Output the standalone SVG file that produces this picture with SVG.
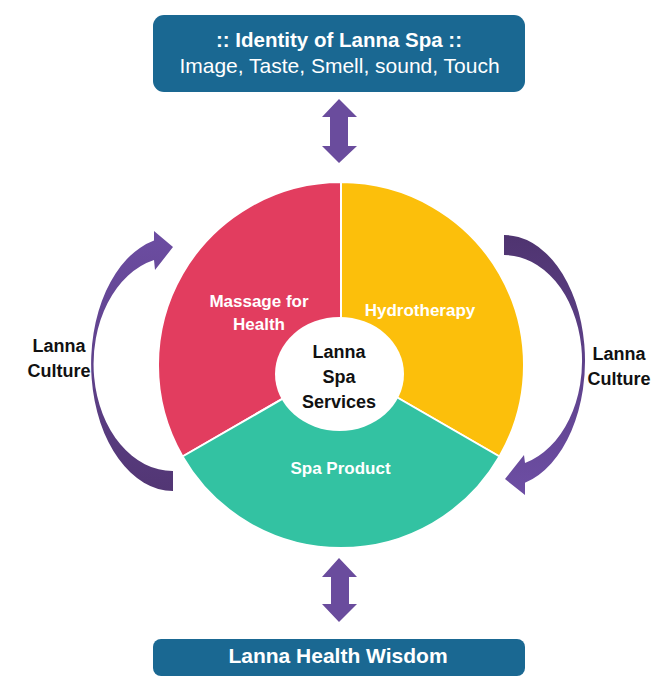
<svg xmlns="http://www.w3.org/2000/svg" width="653" height="677" viewBox="0 0 653 677">
  <style>
    .box { fill: #1A6892; }
    .seg { stroke: #ffffff; stroke-width: 2; stroke-linejoin: round; }
    .lbl { font-family: "Liberation Sans", Arial, sans-serif; font-weight: bold; text-anchor: middle; }
    .white { fill: #ffffff; }
    .dark { fill: #111111; }
    .dbl { fill: #6A4C9D; }
  </style>
  <defs>
    <linearGradient id="gradUp" x1="0" y1="1" x2="0" y2="0">
      <stop offset="0" stop-color="#523674"/>
      <stop offset="1" stop-color="#6C4DA2"/>
    </linearGradient>
    <linearGradient id="gradDown" x1="0" y1="0" x2="0" y2="1">
      <stop offset="0" stop-color="#4F3470"/>
      <stop offset="1" stop-color="#6D4EA4"/>
    </linearGradient>
  </defs>

  <rect width="653" height="677" fill="#ffffff"/>

  <!-- top banner -->
  <g id="identity">
    <rect class="box" x="153" y="15" width="372" height="77" rx="11"/>
    <text class="lbl white" x="339" y="47" font-size="20.5">:: Identity of Lanna Spa ::</text>
    <text class="white" x="339.5" y="73" font-size="21" font-family="Liberation Sans, Arial, sans-serif" text-anchor="middle">Image, Taste, Smell, sound, Touch</text>
  </g>

  <!-- bottom banner -->
  <g id="wisdom">
    <rect class="box" x="153" y="639" width="372" height="37" rx="8"/>
    <text class="lbl white" x="338" y="663" font-size="21">Lanna Health Wisdom</text>
  </g>

  <!-- three service sectors -->
  <g id="massage">
    <path class="seg" fill="#E23D5F" d="M341,365 L341,182 A183,183 0 0 0 182.5,456.5 Z"/>
    <text class="lbl white" x="259" y="307" font-size="17">Massage for</text>
    <text class="lbl white" x="259" y="330" font-size="17">Health</text>
  </g>
  <g id="hydrotherapy">
    <path class="seg" fill="#FCBF0B" d="M341,365 L341,182 A183,183 0 0 1 499.5,456.5 Z"/>
    <text class="lbl white" x="420" y="316" font-size="17">Hydrotherapy</text>
  </g>
  <g id="spa-product">
    <path class="seg" fill="#33C2A2" d="M341,365 L499.5,456.5 A183,183 0 0 1 182.5,456.5 Z"/>
    <text class="lbl white" x="340.5" y="474" font-size="17">Spa Product</text>
  </g>
  <g id="services">
    <ellipse cx="339.5" cy="374" rx="64.5" ry="57" fill="#ffffff"/>
    <text class="lbl dark" x="339" y="358" font-size="18">Lanna</text>
    <text class="lbl dark" x="339" y="383" font-size="18">Spa</text>
    <text class="lbl dark" x="339" y="408" font-size="18">Services</text>
  </g>

  <!-- side labels -->
  <g id="culture-left">
    <text class="lbl dark" x="59" y="352" font-size="18">Lanna</text>
    <text class="lbl dark" x="59" y="377" font-size="18">Culture</text>
  </g>
  <g id="culture-right">
    <text class="lbl dark" x="619" y="360" font-size="18">Lanna</text>
    <text class="lbl dark" x="619" y="385" font-size="18">Culture</text>
  </g>

  <!-- connectors -->
  <g id="connectors">
    <!-- vertical double arrows -->
    <path class="dbl" d="M339,99 L357,117 L348,117 L348,146 L357,146 L339,163 L322,146 L330,146 L330,117 L322,117 Z"/>
    <path class="dbl" d="M339,558 L357,577 L349,577 L349,604 L357,604 L339,622 L322,604 L331,604 L331,577 L322,577 Z"/>
    <!-- curved arrows around the wheel -->
    <path fill="url(#gradUp)" d="M173,491 A82,127 0 0 1 154,240.5 L154,231 L173,247 L155,270 L154,260 A79,107 0 0 0 173,471 Z"/>
    <path fill="url(#gradDown)" d="M504,235 A81,126 0 0 1 525,482.7 L525,495 L505,479 L524,455 L525,463.1 A78,106 0 0 0 504,255 Z"/>
  </g>
</svg>
